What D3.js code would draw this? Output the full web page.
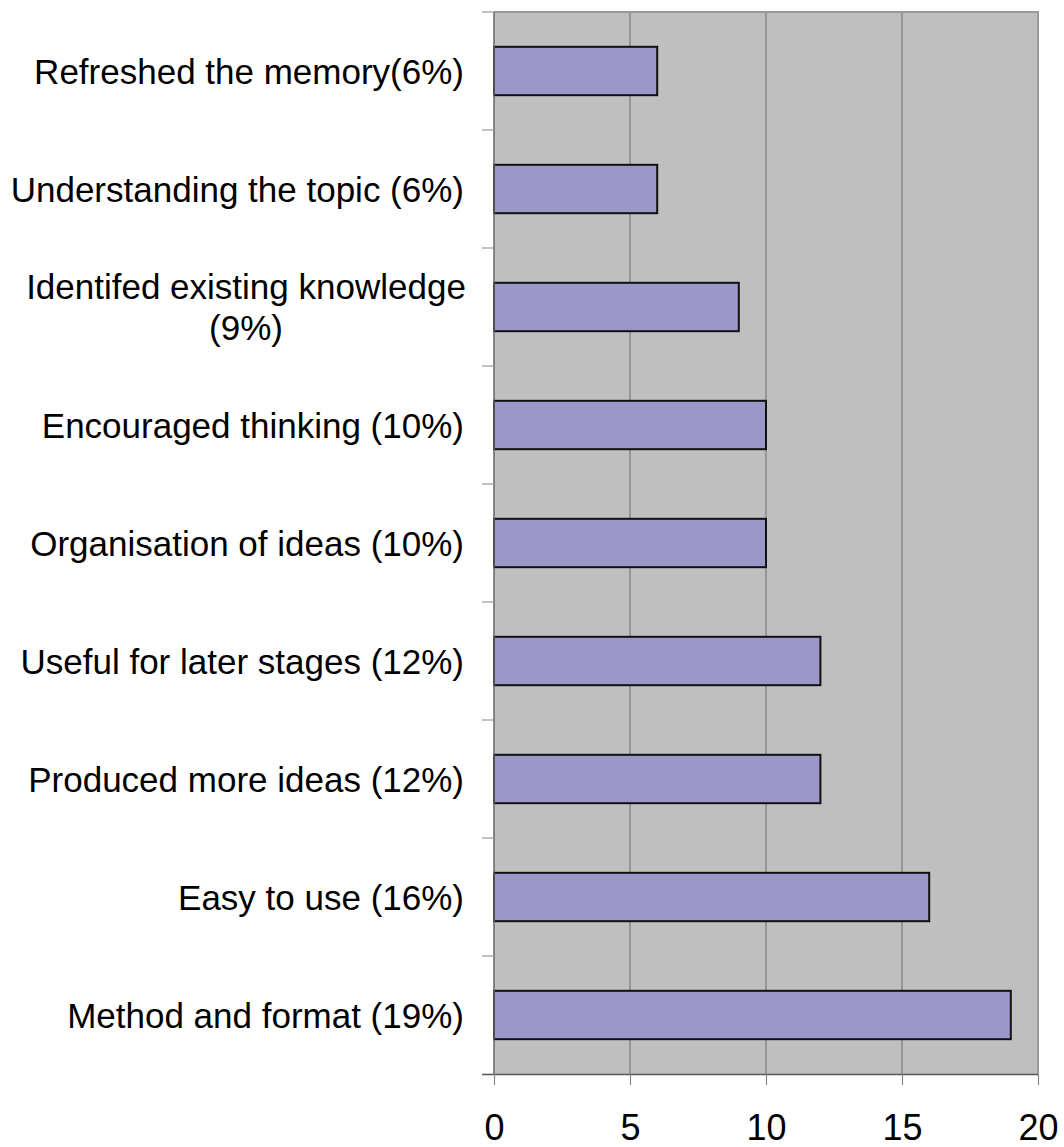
<!DOCTYPE html>
<html>
<head>
<meta charset="utf-8">
<script src="https://cdn.jsdelivr.net/npm/d3@7"></script>
<style>
html,body{margin:0;padding:0;background:#fff;}
svg{display:block;}
text{font-family:"Liberation Sans",Arial,sans-serif;fill:#000;}
</style>
</head>
<body>
<svg id="chart" width="1064" height="1147"></svg>
<script>
const categories = [
  ["Refreshed the memory(6%)"],
  ["Understanding the topic (6%)"],
  ["Identifed existing knowledge", "(9%)"],
  ["Encouraged thinking (10%)"],
  ["Organisation of ideas (10%)"],
  ["Useful for later stages (12%)"],
  ["Produced more ideas (12%)"],
  ["Easy to use (16%)"],
  ["Method and format (19%)"]
];
const values = [6, 6, 9, 10, 10, 12, 12, 16, 19];
const xTicks = [0, 5, 10, 15, 20];

const svg = d3.select("#chart");
const pL = 494, pR = 1038, pT = 12, pB = 1074;

const x = d3.scaleLinear().domain([0, 20]).range([pL, pR]);
const y = d3.scaleBand().domain(d3.range(categories.length)).range([pT, pB]).paddingInner(0.59).paddingOuter(0.295);
const yb = d3.scaleBand().domain(d3.range(categories.length)).range([pT, pB]);

// plot background
svg.append("rect").attr("x", pL).attr("y", pT).attr("width", pR - pL).attr("height", pB - pT)
  .attr("fill", "#c0bfc0");

// gridlines
svg.append("g").selectAll("line").data(xTicks.slice(1, -1)).join("line")
  .attr("x1", d => x(d)).attr("x2", d => x(d)).attr("y1", pT).attr("y2", pB)
  .attr("stroke", "#7c7c7c").attr("stroke-width", 1.2);

// plot border top/right
svg.append("path").attr("d", `M${pL},${pT}H${pR}V${pB}`)
  .attr("fill", "none").attr("stroke", "#9a9a9a").attr("stroke-width", 2);

// bars
svg.append("g").selectAll("rect").data(values).join("rect")
  .attr("x", x(0))
  .attr("y", (d, i) => y(i))
  .attr("width", d => x(d) - x(0))
  .attr("height", y.bandwidth())
  .attr("fill", "#9b97c9")
  .attr("stroke", "#111")
  .attr("stroke-width", 2);

// x axis
const xAxis = d3.axisBottom(x).tickValues(xTicks).tickSize(11);
const gx = svg.append("g").attr("transform", `translate(0,${pB})`).call(xAxis);
gx.select(".domain").attr("stroke", "#555").attr("stroke-width", 1.3).attr("d", `M${pL - 12},0.5H${pR}`);
gx.selectAll(".tick line").attr("stroke", "#888").attr("stroke-width", 1.2);
gx.selectAll(".tick text")
  .attr("font-size", 36)
  .attr("font-family", "Liberation Sans, Arial, sans-serif")
  .attr("fill", "#000")
  .attr("dy", null)
  .attr("y", 66);

// y axis line and ticks at band boundaries
svg.append("line").attr("x1", pL).attr("x2", pL).attr("y1", pT).attr("y2", pB)
  .attr("stroke", "#666").attr("stroke-width", 1.5);
svg.append("g").selectAll("line").data(d3.range(categories.length)).join("line")
  .attr("x1", pL - 12).attr("x2", pL)
  .attr("y1", d => yb(d)).attr("y2", d => yb(d))
  .attr("stroke", "#999").attr("stroke-width", 1.2);

// category labels
const lab = svg.append("g").selectAll("text").data(categories).join("text")
  .attr("font-size", 35)
  .attr("text-anchor", d => d.length > 1 ? "middle" : "end")
  .attr("transform", (d, i) => {
    const cy = yb(i) + yb.bandwidth() / 2;
    return `translate(${d.length > 1 ? 246 : 464},${cy})`;
  });
lab.each(function(d) {
  const t = d3.select(this);
  const lh = 41;
  const y0 = -(d.length - 1) * lh / 2 + 12.5;
  d.forEach((line, k) => {
    t.append("tspan").attr("x", 0).attr("y", y0 + k * lh).text(line);
  });
});
</script>
</body>
</html>
